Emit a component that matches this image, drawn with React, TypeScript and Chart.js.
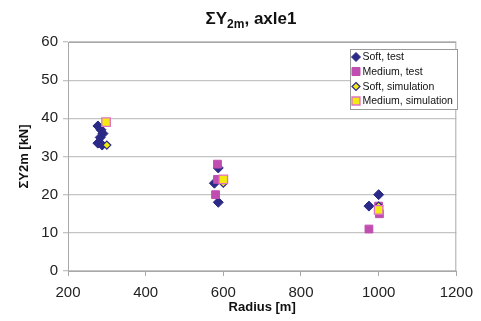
import React, { useEffect, useRef } from "react";
import { Chart, registerables } from "chart.js";

Chart.register(...registerables);

const titleMain = "ΣY";
const titleSub = "2m";
const titleRest = ", axle1";
const xAxisTitle = "Radius [m]";
const yAxisTitle = "ΣY2m [kN]";

const seriesNames = ["Soft, test", "Medium, test", "Soft, simulation", "Medium, simulation"];

const softTestX = [277, 285, 290, 283, 277, 288, 587, 577, 587, 1000, 975];
const softTestY = [38, 37, 36, 35, 33.5, 33, 27, 23, 18, 20, 17];
const mediumTestX = [585, 585, 580, 1000, 1002, 975];
const mediumTestY = [28, 24, 20, 17, 15, 11];
const softSimX = [300, 600, 1000];
const softSimY = [33, 23, 17];
const mediumSimX = [298, 600, 1000];
const mediumSimY = [39, 24, 16];

const xMin = 200, xMax = 1200, xStep = 200;
const yMin = 0, yMax = 60, yStep = 10;

const FONT = "'Liberation Sans', Arial, Helvetica, sans-serif";
const NAVY = "#2b2a86";
const MAGENTA = "#c04eb0";
const YELLOW = "#f2ea10";
const PINK = "#e070c8";

const toPts = (xs: number[], ys: number[]) => xs.map((x, i) => ({ x, y: ys[i] }));

const styles = [
  { pointStyle: "rectRot", bg: NAVY, border: NAVY, radius: 5, bw: 1 },
  { pointStyle: "rect", bg: MAGENTA, border: MAGENTA, radius: 5.5, bw: 1 },
  { pointStyle: "rectRot", bg: YELLOW, border: NAVY, radius: 4, bw: 1.2 },
  { pointStyle: "rect", bg: YELLOW, border: PINK, radius: 6, bw: 1.3 },
];

const decorPlugin = {
  id: "decor",
  afterDraw(chart: any) {
    const { ctx, chartArea } = chart;
    ctx.save();
    ctx.strokeStyle = "#a8a8a8";
    ctx.lineWidth = 1;
    ctx.strokeRect(chartArea.left + 0.5, chartArea.top + 0.5, chartArea.right - chartArea.left - 1, chartArea.bottom - chartArea.top);

    const big = `bold 17px ${FONT}`;
    const small = `bold 12px ${FONT}`;
    ctx.fillStyle = "#111";
    ctx.textBaseline = "alphabetic";
    ctx.textAlign = "left";
    ctx.font = big;
    const w1 = ctx.measureText(titleMain).width;
    const w3 = ctx.measureText(titleRest).width;
    ctx.font = small;
    const w2 = ctx.measureText(titleSub).width;
    const total = w1 + w2 + w3;
    let x = 251 - total / 2;
    const base = 24;
    ctx.font = big;
    ctx.fillText(titleMain, x, base);
    x += w1;
    ctx.font = small;
    ctx.fillText(titleSub, x, base + 4);
    x += w2;
    ctx.font = big;
    ctx.fillText(titleRest, x, base);

    const lx = 350, ly = 49, lw = 107, lh = 60;
    ctx.fillStyle = "#fff";
    ctx.fillRect(lx, ly, lw, lh);
    ctx.strokeStyle = "#9a9a9a";
    ctx.lineWidth = 1;
    ctx.strokeRect(lx + 0.5, ly + 0.5, lw, lh);
    const rows = [57, 71.5, 86.5, 101];
    seriesNames.forEach((name, i) => {
      const s = styles[i];
      const cy = rows[i];
      const cx = 356;
      ctx.fillStyle = s.bg;
      ctx.strokeStyle = s.border;
      ctx.lineWidth = s.bw;
      ctx.beginPath();
      if (s.pointStyle === "rectRot") {
        const r = i === 0 ? 4.5 : 4;
        ctx.moveTo(cx, cy - r);
        ctx.lineTo(cx + r, cy);
        ctx.lineTo(cx, cy + r);
        ctx.lineTo(cx - r, cy);
        ctx.closePath();
      } else {
        const h = 4;
        ctx.rect(cx - h, cy - h, 2 * h, 2 * h);
      }
      ctx.fill();
      ctx.stroke();
      ctx.fillStyle = "#111";
      ctx.font = `10.5px ${FONT}`;
      ctx.textBaseline = "middle";
      ctx.fillText(name, 362.5, cy + 0.5);
    });
    ctx.restore();
  },
};

export default function App() {
  const ref = useRef<HTMLCanvasElement | null>(null);
  useEffect(() => {
    document.body.style.margin = "0";
    const c = ref.current;
    if (!c) return;
    const xs = [softTestX, mediumTestX, softSimX, mediumSimX];
    const ys = [softTestY, mediumTestY, softSimY, mediumSimY];
    const chart = new Chart(c, {
      type: "scatter",
      data: {
        datasets: seriesNames.map((name, i) => ({
          label: name,
          data: toPts(xs[i], ys[i]),
          pointStyle: styles[i].pointStyle as any,
          pointRadius: styles[i].radius,
          pointBackgroundColor: styles[i].bg,
          pointBorderColor: styles[i].border,
          pointBorderWidth: styles[i].bw,
          showLine: false,
          order: 4 - i,
        })),
      },
      options: {
        animation: false,
        responsive: false,
        maintainAspectRatio: false,
        layout: { padding: { left: 0, right: 18, top: 42, bottom: 0 } },
        plugins: {
          legend: { display: false },
          title: { display: false },
          tooltip: { enabled: false },
        },
        scales: {
          x: {
            type: "linear",
            min: xMin,
            max: xMax,
            ticks: { stepSize: xStep, color: "#222", font: { family: FONT, size: 15 }, padding: 8, maxRotation: 0, callback: (v: any) => String(v) },
            grid: { display: true, drawOnChartArea: false, drawTicks: true, tickLength: 5, color: "#a8a8a8" },
            border: { display: true, color: "#a8a8a8" },
            title: { display: true, text: xAxisTitle, color: "#111", font: { family: FONT, size: 13, weight: "bold" }, padding: { top: 0, bottom: 6 } },
            afterFit: (s: any) => { s.height = 50; },
          },
          y: {
            type: "linear",
            min: yMin,
            max: yMax,
            ticks: { stepSize: yStep, color: "#222", font: { family: FONT, size: 15 }, padding: 5, callback: (v: any) => String(v) },
            grid: { display: true, drawOnChartArea: true, drawTicks: true, tickLength: 5, color: "#c4c4c4", lineWidth: 1.3 },
            border: { display: true, color: "#a8a8a8" },
            title: { display: true, text: yAxisTitle, color: "#111", font: { family: FONT, size: 13, weight: "bold" }, padding: { top: 17, bottom: 0 } },
            afterFit: (s: any) => { s.width = 68; },
          },
        },
      },
      plugins: [decorPlugin],
    });
    return () => chart.destroy();
  }, []);
  return (
    <div style={{ position: "absolute", left: 0, top: 0, width: 481, height: 321, background: "#fff" }}>
      <canvas ref={ref} width={481} height={321} style={{ width: 481, height: 321, display: "block" }} />
    </div>
  );
}
